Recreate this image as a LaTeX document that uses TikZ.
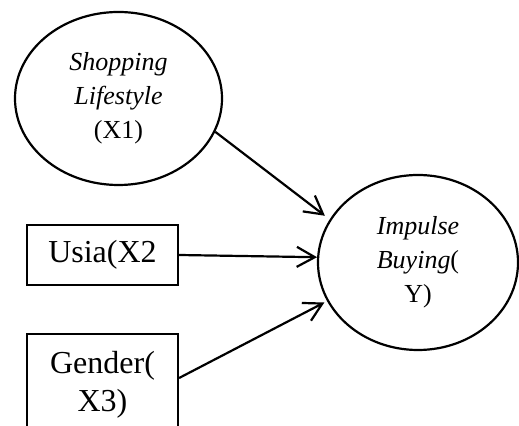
\documentclass[tikz,border=0pt]{standalone}
\usepackage{fontspec}
\setmainfont{Liberation Serif}
\usetikzlibrary{shapes.geometric,arrows.meta}

\tikzset{
  latent/.style={draw, line width=1.1pt, ellipse, inner sep=0pt, align=center,
    font=\fontsize{13}{17}\selectfont},
  observed/.style={draw, line width=1.1pt, rectangle, inner sep=0pt, align=center,
    minimum width=75.5pt, font=\fontsize{16}{19}\selectfont},
  path/.style={line width=1.1pt, -{Straight Barb[length=9pt,width=10pt,line width=1.1pt]}}
}

\begin{document}
\begin{tikzpicture}[x=0.5pt, y=-0.5pt]
  \useasboundingbox (0,0) rectangle (519,426);
  \clip (0,0) rectangle (519,426);

  % exogenous variables
  \node[latent, minimum width=103.5pt, minimum height=86.5pt] (x1) at (118.5,98.5)
    {\textit{Shopping}\\ \textit{Lifestyle}\\ (X1)};
  \node[observed, minimum height=30pt] (x2) at (102.5,255) {Usia(X2};
  \node[observed, minimum height=51pt] (x3) at (102.5,385) {Gender(\\ X3)};

  % endogenous variable
  \node[latent, minimum width=100pt, minimum height=87.5pt] (y) at (418,262.5)
    {\textit{Impulse}\\ \textit{Buying}(\\ Y)};

  % paths
  \draw[path, shorten >=3pt] (x1.-19) -- (y.154);
  \draw[path] (x2.east) -- (y.177);
  \draw[path, shorten >=1.5pt] ([yshift=3.5pt]x3.east) -- (y.203);
\end{tikzpicture}
\end{document}
